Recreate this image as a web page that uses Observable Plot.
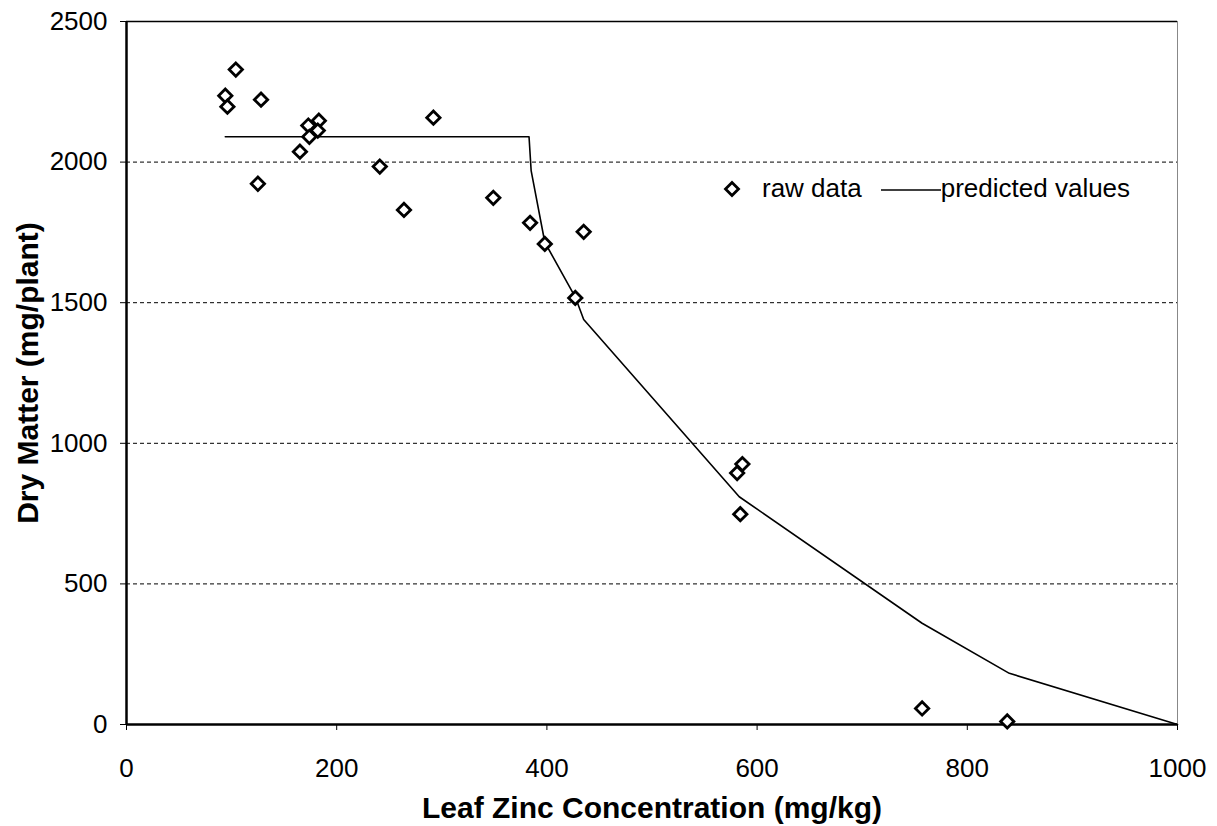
<!DOCTYPE html>
<html>
<head>
<meta charset="utf-8">
<script src="https://cdn.jsdelivr.net/npm/d3@7"></script>
<script src="https://cdn.jsdelivr.net/npm/@observablehq/plot@0.6"></script>
<style>
  html, body { margin: 0; padding: 0; background: #fff; }
  #wrap { position: relative; width: 1217px; height: 826px; font-family: "Liberation Sans", Arial, sans-serif; }
  #legend { position: absolute; left: 722px; top: 173px; display: flex; align-items: center; font-size: 26px; color: #000; white-space: nowrap; }
  #legend svg { display: block; }
</style>
</head>
<body>
<div id="wrap">
  <div id="chart"></div>
  <div id="legend">
    <svg width="20" height="20" viewBox="-10 -10 20 20"><path d="M0,-6.5L6.5,0L0,6.5L-6.5,0Z" fill="#fff" stroke="#000" stroke-width="2.8"/></svg>
    <span style="margin-left:20px">raw data</span>
    <svg width="60" height="20" style="margin-left:19px"><line x1="0" y1="11" x2="60" y2="11" stroke="#000" stroke-width="1.5"/></svg>
    <span>predicted values</span>
  </div>
</div>
<script>
// Raw data (Leaf Zn mg/kg, dry matter mg/plant)
const zinc = [94, 96, 104, 128, 125, 165, 173, 174, 183, 182, 241, 264, 292, 349, 384, 398, 435, 427, 581, 586, 584, 757, 838];
const dryMatter = [2236, 2197, 2329, 2222, 1923, 2037, 2130, 2090, 2147, 2112, 1984, 1830, 2158, 1873, 1784, 1709, 1752, 1517, 894, 926, 748, 57, 11];
// Predicted values
const predZinc = [94, 383, 385, 398, 427, 435, 583, 757, 840, 1000];
const predDry = [2090, 2090, 1970, 1715, 1520, 1440, 810, 360, 182, 0];
// Ticks
const xTicks = [0, 200, 400, 600, 800, 1000];
const yTicks = [0, 500, 1000, 1500, 2000, 2500];
const gridTicks = [500, 1000, 1500, 2000];

const raw = zinc.map((x, i) => ({x, y: dryMatter[i]}));
const pred = predZinc.map((x, i) => ({x, y: predDry[i]}));

const chart = Plot.plot({
  width: 1217,
  height: 826,
  marginLeft: 126,
  marginRight: 40,
  marginTop: 21,
  marginBottom: 102,
  style: {fontFamily: '"Liberation Sans", Arial, sans-serif', fontSize: "26px", color: "#000", background: "#fff"},
  x: {domain: [0, 1000]},
  y: {domain: [0, 2500]},
  marks: [
    Plot.ruleY(gridTicks, {stroke: "#000", strokeWidth: 1, strokeDasharray: "4,3"}),
    Plot.ruleY([2500], {stroke: "#000", strokeWidth: 1.5}),
    Plot.ruleX([1000], {stroke: "#888", strokeWidth: 1}),
    Plot.axisY({ticks: yTicks, tickSize: 6, tickPadding: 13, tickFormat: d => String(d), label: null, stroke: "#000"}),
    Plot.axisX({ticks: xTicks, tickSize: 6, tickPadding: 28, tickFormat: d => String(d), label: null, stroke: "#000"}),
    Plot.ruleX([0], {stroke: "#000", strokeWidth: 2.5}),
    Plot.ruleY([0], {stroke: "#000", strokeWidth: 2.5}),
    Plot.line(pred, {x: "x", y: "y", stroke: "#000", strokeWidth: 1.6}),
    Plot.dot(raw, {x: "x", y: "y", symbol: "diamond2", r: 6, fill: "#fff", stroke: "#000", strokeWidth: 2.8}),
    Plot.text(["Dry Matter (mg/plant)"], {frameAnchor: "left", textAnchor: "middle", lineAnchor: "middle", rotate: -90, dx: -98, fontWeight: "bold", fontSize: 30}),
    Plot.text(["Leaf Zinc Concentration (mg/kg)"], {frameAnchor: "bottom", textAnchor: "middle", lineAnchor: "middle", dy: 84, fontWeight: "bold", fontSize: 30})
  ]
});
document.getElementById("chart").appendChild(chart);
</script>
</body>
</html>
